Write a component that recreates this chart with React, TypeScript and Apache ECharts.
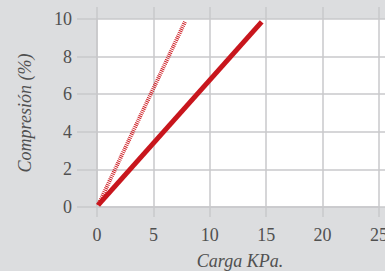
import React, { useEffect, useRef } from "react";
import * as echarts from "echarts";

const xTicks = [0, 5, 10, 15, 20, 25];
const yTicks = [0, 2, 4, 6, 8, 10];
const solidSeries: [number, number][] = [[0.1, 0.1], [14.6, 9.85]];
const dashedSeries: [number, number][] = [[0.1, 0.1], [7.8, 9.85]];
const xName = "Carga KPa.";
const yName = "Compresión (%)";

const GRID = "#c9c9cb";
const TEXT = "#505050";
const RED = "#c8161d";
const FONT = "Liberation Serif";

export default function App() {
  const ref = useRef<HTMLDivElement>(null);
  useEffect(() => {
    const chart = echarts.init(ref.current!, null, { renderer: "svg" });
    const lineStyle = { color: GRID, width: 1.5 };
    const hidden = { show: true, onZero: false, lineStyle: { color: GRID, width: 0, opacity: 0 } };
    const common = { min: xTicks[0], max: xTicks[xTicks.length - 1], interval: 5 };
    const ycommon = { min: yTicks[0], max: yTicks[yTicks.length - 1], interval: 2 };
    chart.setOption({
      animation: false,
      backgroundColor: "#dcdddf",
      graphic: [
        { type: "rect", z: -1, shape: { x: 97, y: 19, width: 288, height: 188 }, style: { fill: "#ffffff" } },
      ],
      grid: { left: 97, right: 6, top: 19, bottom: 64, outerBoundsMode: "none", containLabel: false },
      xAxis: [
        {
          type: "value", position: "bottom", ...common,
          axisLine: { show: true, onZero: false, lineStyle },
          axisTick: { show: true, length: 10, lineStyle },
          splitLine: { show: true, lineStyle },
          axisLabel: { color: TEXT, fontFamily: FONT, fontSize: 18, margin: 19, hideOverlap: false },
          name: xName, nameLocation: "middle", nameGap: 45,
          nameTextStyle: { color: TEXT, fontFamily: FONT, fontSize: 18, fontStyle: "italic", padding: [0, 0, 0, 4] },
        },
        {
          type: "value", position: "top", ...common,
          axisLine: hidden,
          axisTick: { show: true, length: 12, lineStyle },
          splitLine: { show: false },
          axisLabel: { show: false },
        },
      ],
      yAxis: [
        {
          type: "value", position: "left", ...ycommon,
          axisLine: { show: true, onZero: false, lineStyle },
          axisTick: { show: true, length: 20, lineStyle },
          splitLine: { show: true, lineStyle },
          axisLabel: { color: TEXT, fontFamily: FONT, fontSize: 18, margin: 25, padding: [5, 0, 0, 0] },
          name: yName, nameLocation: "middle", nameGap: 63,
          nameTextStyle: { color: TEXT, fontFamily: FONT, fontSize: 18, fontStyle: "italic" },
        },
        {
          type: "value", position: "right", ...ycommon,
          axisLine: hidden,
          axisTick: { show: true, length: 6, lineStyle },
          splitLine: { show: false },
          axisLabel: { show: false },
        },
      ],
      series: [
        {
          type: "line", data: dashedSeries, symbol: "none",
          lineStyle: { color: "#d0252b", width: 4, type: [1, 1], cap: "butt" },
        },
        {
          type: "line", data: solidSeries, symbol: "none",
          lineStyle: { color: RED, width: 5, cap: "butt" },
        },
      ],
    });
    return () => chart.dispose();
  }, []);
  return <div ref={ref} style={{ position: "fixed", left: 0, top: 0, width: 385, height: 271 }} />;
}
